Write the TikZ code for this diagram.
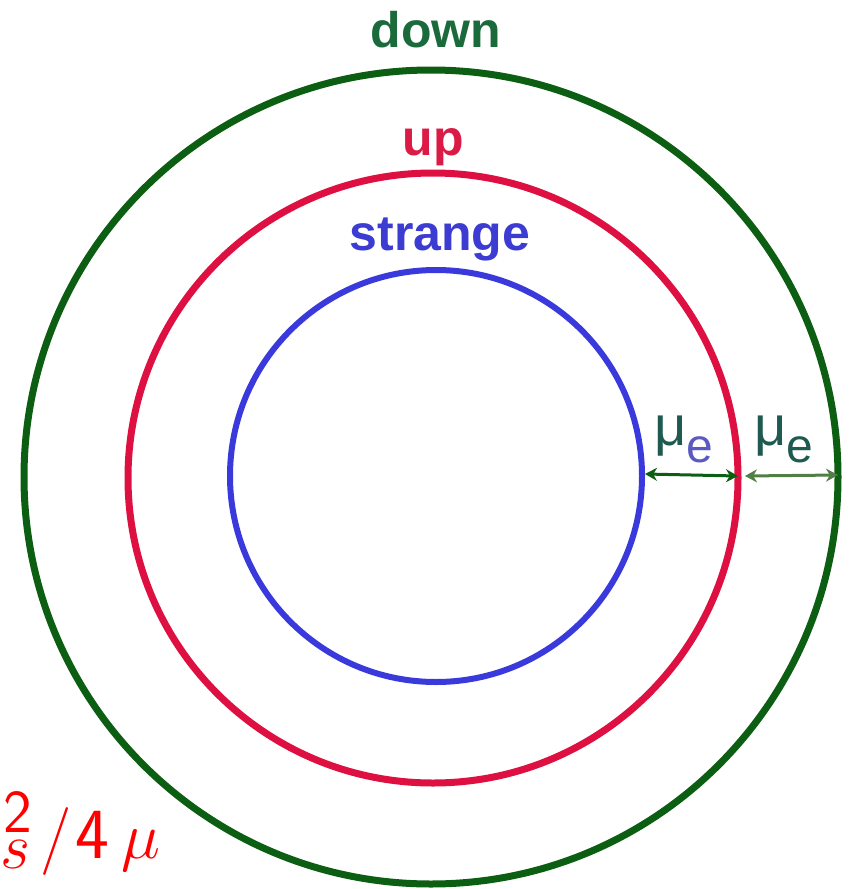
\documentclass[tikz,border=0pt]{standalone}
\usepackage{fix-cm}
\usepackage{fontspec}
\setmainfont{Liberation Sans}
\setsansfont{Latin Modern Sans}
\usetikzlibrary{arrows.meta}
\definecolor{cgreen}{HTML}{0B5E12}
\definecolor{cred}{HTML}{DE1041}
\definecolor{cblue}{HTML}{3A3ADC}
\definecolor{tdown}{HTML}{1B6A3C}
\definecolor{tup}{HTML}{DC1A46}
\definecolor{tstr}{HTML}{3C3CD2}
\definecolor{tmu}{HTML}{1E5A50}
\definecolor{te}{HTML}{5A5AC0}
\definecolor{arrlight}{HTML}{4F7F45}
\tikzset{
  ring/.style={line width=7pt},
  lbl/.style={font=\fontsize{50}{50}\selectfont\bfseries, inner sep=0pt, anchor=base},
  mulbl/.style={inner sep=0pt, anchor=base west, text=tmu},
  gap/.style={{Stealth[length=12pt,width=13pt]}-{Stealth[length=12pt,width=13pt]}, line width=3pt, draw=cgreen},
}
\newcommand{\mue}[1]{{\fontsize{56}{56}\selectfont μ}\raisebox{-17pt}{\fontsize{48}{48}\selectfont\color{#1}e}}
\newcommand{\placeat}[3]{\makebox[0pt][l]{\kern#1\raisebox{#2}{#3}}}
\begin{document}
\begin{tikzpicture}[x=1pt,y=-1pt]
\useasboundingbox (0,0) rectangle (853,889);
\node[draw=cgreen, ring, circle, minimum size=814pt, inner sep=0pt] (down) at (431,477) {};
\node[draw=cred, ring, circle, minimum size=610pt, inner sep=0pt] (up) at (433,478) {};
\node[draw=cblue, line width=6pt, circle, minimum size=412pt, inner sep=0pt] (strange) at (436,476) {};
\node[lbl, text=tdown] (tdown) at (436,47) {down};
\node[lbl, text=tup] (tup) at (433,155) {up};
\node[lbl, text=tstr] (tstr) at (440,250) {strange};
\node[mulbl] (mu1) at (654,445) {\mue{te}};
\node[mulbl] (mu2) at (754,445) {\mue{tmu}};
\coordinate (b1) at (strange.east);
\coordinate (r1) at ([xshift=-3.5pt]up.east);
\coordinate (r2) at ([xshift=3.5pt]up.east);
\coordinate (g1) at ([xshift=-3.5pt]down.east);
\draw[gap] ([yshift=2pt]b1) -- ([yshift=2pt]r1);
\draw[gap, draw=arrlight] ([yshift=2pt]r2) -- ([yshift=2pt]g1);
\node[inner sep=0pt, anchor=base west, text=red] (delta) at (0,858) {%
  \placeat{3pt}{26pt}{\fontsize{61}{61}\selectfont\sffamily 2}%
  \placeat{0pt}{-10pt}{\fontsize{65}{65}\selectfont$s$}%
  \placeat{40pt}{0pt}{\fontsize{68}{68}\selectfont$/$}%
  \placeat{75pt}{0pt}{\fontsize{72}{72}\selectfont\sffamily 4}%
  \placeat{121pt}{0pt}{\fontsize{66}{66}\selectfont$\mu$}%
  \rule{166pt}{0pt}};
\end{tikzpicture}
\end{document}
